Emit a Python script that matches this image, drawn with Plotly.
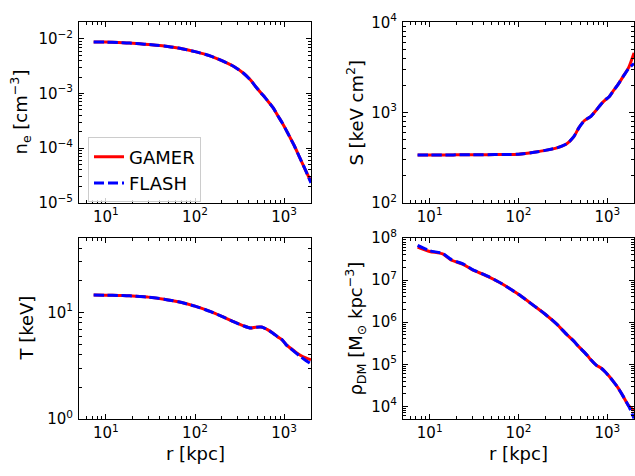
import math
import plotly.graph_objects as go

# ---------------- data ----------------
r_kpc = [7.3, 10, 14, 17, 20, 24, 30, 45, 65, 100, 150, 200, 270, 350, 420,
         480, 550, 600, 650, 750, 850, 950, 1050, 1150, 1300, 1500, 1750, 2000]

ne_gamer = [8.8e-3, 8.75e-3, 8.6e-3, 8.45e-3, 8.3e-3, 8.15e-3, 7.9e-3, 7.45e-3,
            6.8e-3, 5.85e-3, 4.84e-3, 4.0e-3, 3.15e-3, 2.35e-3, 1.76e-3, 1.33e-3,
            1.02e-3, 8.7e-4, 7.4e-4, 5.5e-4, 3.9e-4, 2.9e-4, 2.15e-4, 1.62e-4,
            1.1e-4, 6.6e-5, 3.8e-5, 2.4e-5]
ne_flash = [8.8e-3, 8.75e-3, 8.6e-3, 8.45e-3, 8.3e-3, 8.15e-3, 7.9e-3, 7.45e-3,
            6.8e-3, 5.85e-3, 4.84e-3, 4.0e-3, 3.15e-3, 2.35e-3, 1.76e-3, 1.33e-3,
            1.02e-3, 8.7e-4, 7.4e-4, 5.5e-4, 3.9e-4, 2.9e-4, 2.15e-4, 1.62e-4,
            1.1e-4, 6.6e-5, 3.8e-5, 2.3e-5]

S_gamer = [338, 338, 338, 338, 339, 339, 340, 341, 342, 345, 362, 380, 405, 450,
           540, 680, 810, 860, 900, 1060, 1240, 1380, 1500, 1700, 2000, 2490,
           3200, 4600]
S_flash = [338, 338, 338, 338, 339, 339, 340, 341, 342, 345, 362, 380, 405, 450,
           540, 680, 810, 860, 900, 1060, 1240, 1380, 1500, 1700, 2000, 2490,
           3100, 3500]

T_gamer = [14.6, 14.55, 14.45, 14.4, 14.3, 14.15, 13.95, 13.35, 12.6, 11.5, 10.2,
           9.2, 8.2, 7.5, 7.15, 7.28, 7.3, 7.15, 6.92, 6.4, 5.9, 5.55, 5.0, 4.7,
           4.35, 4.0, 3.75, 3.6]
T_flash = [14.6, 14.55, 14.45, 14.4, 14.3, 14.15, 13.95, 13.35, 12.6, 11.5, 10.2,
           9.2, 8.2, 7.5, 7.15, 7.28, 7.3, 7.15, 6.92, 6.4, 5.9, 5.55, 5.0, 4.7,
           4.3, 3.9, 3.55, 3.3]

rho_gamer = [6.1e7, 4.8e7, 4.2e7, 3.1e7, 2.7e7, 2.35e7, 1.78e7, 1.23e7, 8.2e6,
             4.6e6, 2.45e6, 1.55e6, 9.0e5, 5.1e5, 3.55e5, 2.6e5, 1.95e5, 1.6e5,
             1.3e5, 9.6e4, 8.2e4, 6.6e4, 5.2e4, 4.1e4, 2.9e4, 1.78e4, 1.02e4, 8.0e3]
rho_flash = [6.7e7, 5.0e7, 4.3e7, 3.2e7, 2.75e7, 2.4e7, 1.8e7, 1.24e7, 8.2e6,
             4.6e6, 2.45e6, 1.55e6, 9.0e5, 5.1e5, 3.55e5, 2.6e5, 1.95e5, 1.6e5,
             1.3e5, 9.6e4, 8.2e4, 6.6e4, 5.2e4, 4.1e4, 2.9e4, 1.78e4, 1.0e4, 5.2e3]

series_names = ["GAMER", "FLASH"]

x_tickvals = [10, 100, 1000]
x_ticktext = ["10<sup>1</sup>", "10<sup>2</sup>", "10<sup>3</sup>"]

ne_tickvals = [1e-5, 1e-4, 1e-3, 1e-2]
ne_ticktext = ["10<sup>−5</sup>", "10<sup>−4</sup>", "10<sup>−3</sup>", "10<sup>−2</sup>"]
S_tickvals = [1e2, 1e3, 1e4]
S_ticktext = ["10<sup>2</sup>", "10<sup>3</sup>", "10<sup>4</sup>"]
T_tickvals = [1, 10]
T_ticktext = ["10<sup>0</sup>", "10<sup>1</sup>"]
rho_tickvals = [1e4, 1e5, 1e6, 1e7, 1e8]
rho_ticktext = ["10<sup>4</sup>", "10<sup>5</sup>", "10<sup>6</sup>", "10<sup>7</sup>", "10<sup>8</sup>"]

y_titles = ["n<sub>e</sub> [cm<sup>−3</sup>]", "S [keV cm<sup>2</sup>]",
            "T [keV]", "ρ<sub>DM</sub> [M<sub>⊙</sub> kpc<sup>−3</sup>]"]
x_title = "r [kpc]"

# ---------------- figure ----------------
W, H = 635, 476
FONT = "DejaVu Sans"
RED, BLUE = "#ff0000", "#0000ff"


def minor_vals(lo_exp, hi_exp):
    out = []
    for e in range(lo_exp, hi_exp + 1):
        for m in range(2, 10):
            out.append(m * 10.0 ** e)
    return out


# panel pixel boxes: (x0, x1, y0, y1) from top-left
boxes = [(79, 311, 12, 200), (403, 634, 12, 200),
         (79, 311, 237, 426), (403, 634, 237, 426)]
yranges = [(1e-5, 2e-2), (1e2, 1e4), (1, 50), (5e3, 1e8)]
yticks = [(ne_tickvals, ne_ticktext, -6, -2), (S_tickvals, S_ticktext, 1, 3),
          (T_tickvals, T_ticktext, 0, 1), (rho_tickvals, rho_ticktext, 3, 7)]
data = [(ne_gamer, ne_flash), (S_gamer, S_flash), (T_gamer, T_flash),
        (rho_gamer, rho_flash)]
ytitle_x = [20, 355, 27, 355]

fig = go.Figure()
layout = dict(width=W, height=H, margin=dict(l=0, r=0, t=0, b=0, pad=0),
              paper_bgcolor="white", plot_bgcolor="white",
              font=dict(family=FONT, size=15, color="black"),
              showlegend=True)
annotations = []

for i, (box, yr, yt, (g, f)) in enumerate(zip(boxes, yranges, yticks, data)):
    n = "" if i == 0 else str(i + 1)
    x0, x1, y0, y1 = box
    xa = dict(type="log", range=[math.log10(5), math.log10(2000)],
              domain=[x0 / W, x1 / W], anchor="y" + n,
              showline=True, linecolor="black", linewidth=1, mirror="ticks",
              ticks="inside", ticklen=5, tickwidth=1, tickcolor="black",
              tickvals=x_tickvals, ticktext=x_ticktext, showgrid=False,
              zeroline=False, ticklabelstandoff=0,
              tickfont=dict(family=FONT, size=15, color="black"),
              minor=dict(ticks="inside", ticklen=3, tickwidth=0.8,
                         tickcolor="black", tickvals=minor_vals(0, 3),
                         showgrid=False))
    ya = dict(type="log", range=[math.log10(yr[0]), math.log10(yr[1])],
              domain=[1 - y1 / H, 1 - y0 / H], anchor="x" + n,
              showline=True, linecolor="black", linewidth=1, mirror="ticks",
              ticks="inside", ticklen=5, tickwidth=1, tickcolor="black",
              tickvals=yt[0], ticktext=yt[1], showgrid=False, zeroline=False,
              ticklabelstandoff=2,
              tickfont=dict(family=FONT, size=15, color="black"),
              minor=dict(ticks="inside", ticklen=3, tickwidth=0.8,
                         tickcolor="black", tickvals=minor_vals(yt[2], yt[3]),
                         showgrid=False))
    layout["xaxis" + n] = xa
    layout["yaxis" + n] = ya
    fig.add_trace(go.Scatter(x=r_kpc, y=g, mode="lines", name=series_names[0],
                             line=dict(color=RED, width=3, shape="spline", smoothing=0.6),
                             xaxis="x" + n, yaxis="y" + n, showlegend=(i == 0),
                             legendgroup="g"))
    fig.add_trace(go.Scatter(x=r_kpc, y=f, mode="lines", name=series_names[1],
                             line=dict(color=BLUE, width=3, dash="10px,4px",
                                       shape="spline", smoothing=0.6),
                             xaxis="x" + n, yaxis="y" + n, showlegend=(i == 0),
                             legendgroup="f"))
    annotations.append(dict(text=y_titles[i], xref="paper", yref="paper",
                            x=ytitle_x[i] / W, y=1 - (y0 + y1) / 2 / H, textangle=-90,
                            showarrow=False, xanchor="center", yanchor="middle",
                            font=dict(family=FONT, size=18, color="black")))
    if i >= 2:
        annotations.append(dict(text=x_title, xref="paper", yref="paper",
                                x=(x0 + x1) / 2 / W, y=1 - 462 / H,
                                showarrow=False, xanchor="center", yanchor="middle",
                                font=dict(family=FONT, size=18, color="black")))

layout["annotations"] = annotations
layout["legend"] = dict(x=88 / W, y=1 - 132 / H, xanchor="left", yanchor="top",
                        bgcolor="rgba(255,255,255,0.8)", bordercolor="#cccccc",
                        borderwidth=1, font=dict(family=FONT, size=18, color="black"),
                        tracegroupgap=0, itemwidth=30)
fig.update_layout(**layout)
fig.write_html("out.html", config={"displayModeBar": False},
               post_script="document.body.style.margin='0px';document.body.style.padding='0px';")
